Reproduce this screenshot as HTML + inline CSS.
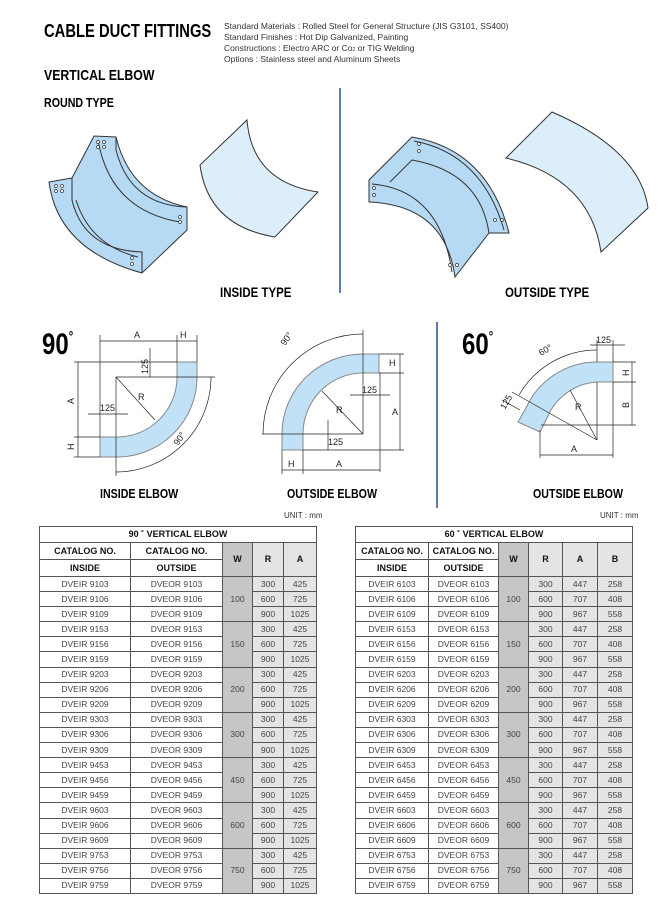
<!DOCTYPE html>
<html><head><meta charset="utf-8"><style>
*{margin:0;padding:0;box-sizing:border-box}
body{width:670px;height:909px;background:#fff;position:relative;overflow:hidden;font-family:"Liberation Sans",sans-serif}
.t{position:absolute;white-space:nowrap}
.s{position:absolute;white-space:nowrap;left:224px;font-size:8.5px;line-height:10px;color:#333}
.b{font-weight:bold;transform-origin:left top}
table{position:absolute;border-collapse:collapse;table-layout:fixed;font-size:8.5px;color:#444}
td{border:1px solid #555;text-align:center;height:15.1px;padding:0;line-height:13px}
.h td{font-weight:bold;color:#111;font-size:9px;height:17px}
td.w{background:#c6c6c6}
td.g{background:#e4e4e4}
.ttl td{font-weight:bold;color:#111;font-size:9px;height:16px}
</style></head><body>
<div class="t b" style="left:44px;top:21px;font-size:18px;transform:scaleX(0.82)">CABLE DUCT FITTINGS</div>
<div class="s" style="top:21px">Standard Materials : Rolled Steel for General Structure (JIS G3101, SS400)</div>
<div class="s" style="top:32px">Standard Finishes : Hot Dip Galvanized, Painting</div>
<div class="s" style="top:43px">Constructions : Electro ARC or Co<span style="font-size:5px">2</span> or TIG Welding</div>
<div class="s" style="top:54px">Options : Stainless steel and Aluminum Sheets</div>
<div class="t b" style="left:44px;top:67px;font-size:15px;transform:scaleX(0.82)">VERTICAL ELBOW</div>
<div class="t b" style="left:44px;top:95px;font-size:13px;transform:scaleX(0.82)">ROUND TYPE</div>
<div class="t b" style="left:220px;top:284px;font-size:14px;transform:scaleX(0.82)">INSIDE TYPE</div>
<div class="t b" style="left:505px;top:284px;font-size:14px;transform:scaleX(0.82)">OUTSIDE TYPE</div>
<div class="t b" style="left:42px;top:328px;font-size:30px;transform:scaleX(0.8)">90<span style="font-size:14px;vertical-align:top">°</span></div>
<div class="t b" style="left:462px;top:328px;font-size:30px;transform:scaleX(0.8)">60<span style="font-size:14px;vertical-align:top">°</span></div>
<div class="t b" style="left:100px;top:486px;font-size:13px;transform:scaleX(0.82)">INSIDE ELBOW</div>
<div class="t b" style="left:287px;top:486px;font-size:13px;transform:scaleX(0.82)">OUTSIDE ELBOW</div>
<div class="t b" style="left:533px;top:486px;font-size:13px;transform:scaleX(0.82)">OUTSIDE ELBOW</div>
<div class="t" style="left:284px;top:511px;font-size:8px;color:#333">UNIT : mm</div>
<div class="t" style="left:600px;top:511px;font-size:8px;color:#333">UNIT : mm</div>

<svg width="670" height="909" style="position:absolute;left:0;top:0" font-family="Liberation Sans, sans-serif">
<g stroke="#2a4f8a" stroke-width="1.5"><line x1="340" y1="88" x2="340" y2="293"/><line x1="437" y1="322" x2="437" y2="508"/></g>
<g stroke="#333" stroke-width="1" fill="#b6daf3">
<path d="M49,182 L72,178 L94,136 L116,137 Q130,195 187,207 L187,230 L142,273 Q58,250 49,182 Z"/>
<path d="M72,178 L72,200 Q84,250 142,252 L142,273" fill="none"/>
<path d="M116,137 L116,150 Q130,205 187,207" fill="none"/>
<path d="M98,140 Q110,210 180,222" fill="none"/><path d="M76,200 Q90,245 138,257" fill="none"/>
<path d="M247,120 Q252,182 318,192 L275,237 Q208,226 200,165 Z" fill="#dbeefa"/>
<path d="M369,180 L412,137 Q488,150 509,233 L489,233 L455,277 Q445,205 369,202 Z"/>
<path d="M390,182 L412,160 Q480,172 489,233" fill="none"/>
<path d="M414,141 Q482,154 504,230" fill="none"/><path d="M372,184 Q440,190 452,272" fill="none"/>
<path d="M552,112 Q640,150 648,208 L601,252 Q590,178 506,158 Z" fill="#dbeefa"/>
</g>
<g fill="#fff" stroke="#333" stroke-width="0.7">
<circle cx="98" cy="142" r="1.5"/><circle cx="104" cy="142" r="1.5"/><circle cx="98" cy="147" r="1.5"/><circle cx="104" cy="147" r="1.5"/>
<circle cx="56" cy="186" r="1.5"/><circle cx="62" cy="186" r="1.5"/><circle cx="56" cy="191" r="1.5"/><circle cx="62" cy="191" r="1.5"/>
<circle cx="180" cy="217" r="1.5"/><circle cx="180" cy="222" r="1.5"/><circle cx="132" cy="258" r="1.5"/><circle cx="132" cy="264" r="1.5"/>
<circle cx="419" cy="144" r="1.5"/><circle cx="419" cy="151" r="1.5"/><circle cx="374" cy="188" r="1.5"/><circle cx="374" cy="195" r="1.5"/>
<circle cx="495" cy="220" r="1.5"/><circle cx="502" cy="220" r="1.5"/><circle cx="450" cy="265" r="1.5"/><circle cx="457" cy="265" r="1.5"/>
</g>
<g stroke="#888" stroke-width="1" fill="#c0e1f6">
<path d="M177,362 L197,362 L197,377 A80,80 0 0 1 117,457 L100,457 L100,437 L117,437 A60,60 0 0 0 177,377 Z"/>
<path d="M379,354 L363,354 A81,80 0 0 0 282,434 L282,450 L303,450 L303,434 A60,61 0 0 1 363,373 L379,373 Z"/>
<path d="M613,362 L597,362 A78,78 0 0 0 526,408 L518,422 L540,432 L547,418 A58,58 0 0 1 597,382 L613,382 Z"/>
</g>
<g stroke="#222" stroke-width="0.7" fill="none">
<line x1="100" y1="341" x2="197" y2="341"/><line x1="100" y1="335" x2="100" y2="437"/><line x1="177" y1="335" x2="177" y2="362"/><line x1="197" y1="335" x2="197" y2="362"/>
<line x1="78" y1="362" x2="78" y2="457"/><line x1="74" y1="362" x2="177" y2="362"/><line x1="74" y1="437" x2="100" y2="437"/><line x1="74" y1="457" x2="100" y2="457"/>
<line x1="116" y1="377" x2="215" y2="377"/><line x1="116" y1="377" x2="116" y2="476"/><line x1="116" y1="377" x2="155" y2="420"/>
<line x1="150" y1="348" x2="150" y2="377"/><line x1="88" y1="414" x2="128" y2="414"/>
<path d="M211,377 A95,95 0 0 1 116,472"/>
<line x1="262" y1="434" x2="363" y2="434"/><line x1="363" y1="330" x2="363" y2="434"/><line x1="363" y1="434" x2="322" y2="391"/>
<line x1="379" y1="354" x2="404" y2="354"/><line x1="379" y1="373" x2="404" y2="373"/><line x1="303" y1="450" x2="404" y2="450"/><line x1="400" y1="354" x2="400" y2="450"/><line x1="380" y1="373" x2="380" y2="472"/>
<line x1="282" y1="450" x2="282" y2="474"/><line x1="303" y1="450" x2="303" y2="474"/><line x1="282" y1="470" x2="380" y2="470"/>
<line x1="350" y1="395" x2="390" y2="395"/><line x1="328" y1="420" x2="328" y2="450"/>
<path d="M363,334 A100,100 0 0 0 263,434"/>
<line x1="597" y1="340" x2="597" y2="362"/><line x1="613" y1="340" x2="613" y2="362"/><line x1="590" y1="345" x2="625" y2="345"/>
<line x1="613" y1="362" x2="636" y2="362"/><line x1="613" y1="382" x2="636" y2="382"/><line x1="541" y1="425" x2="636" y2="425"/><line x1="632" y1="362" x2="632" y2="425"/>
<line x1="597" y1="382" x2="597" y2="440"/><line x1="597" y1="440" x2="570" y2="390"/><line x1="597" y1="440" x2="512" y2="392"/>
<line x1="540" y1="430" x2="540" y2="458"/><line x1="613" y1="382" x2="613" y2="458"/><line x1="540" y1="455" x2="613" y2="455"/>
<path d="M597,350 A90,90 0 0 0 519,395"/><line x1="502" y1="400" x2="520" y2="410"/>
</g>
<g font-size="9" fill="#222">
<text x="134" y="338">A</text><text x="180" y="338">H</text>
<text x="74" y="404" transform="rotate(-90 74 404)">A</text><text x="74" y="450" transform="rotate(-90 74 450)">H</text>
<text x="148" y="374" transform="rotate(-90 148 374)">125</text><text x="100" y="411">125</text><text x="138" y="400">R</text>
<text x="178" y="446" transform="rotate(-55 178 446)">90°</text>
<text x="285" y="346" transform="rotate(-55 285 346)">90°</text>
<text x="389" y="366">H</text><text x="392" y="415">A</text><text x="362" y="393">125</text><text x="328" y="445">125</text><text x="336" y="413">R</text>
<text x="288" y="467">H</text><text x="336" y="467">A</text>
<text x="596" y="343">125</text><text x="541" y="356" transform="rotate(-30 541 356)">60°</text>
<text x="629" y="376" transform="rotate(-90 629 376)">H</text><text x="629" y="408" transform="rotate(-90 629 408)">B</text>
<text x="575" y="410">R</text><text x="571" y="452">A</text><text x="505" y="410" transform="rotate(-60 505 410)">125</text>
</g>
</svg>

<table style="left:39px;top:526px;width:277px">
<colgroup><col style="width:91px"><col style="width:92px"><col style="width:30px"><col style="width:31px"><col style="width:33px"></colgroup>
<tr class="ttl"><td colspan="5">90 ˚ VERTICAL ELBOW</td></tr>
<tr class="h"><td>CATALOG NO.</td><td>CATALOG NO.</td><td rowspan="2" class="w">W</td><td rowspan="2" class="g">R</td><td rowspan="2" class="g">A</td></tr>
<tr class="h"><td>INSIDE</td><td>OUTSIDE</td></tr>
<tr><td>DVEIR 9103</td><td>DVEOR 9103</td><td rowspan="3" class="w">100</td><td class="g">300</td><td class="g">425</td></tr>
<tr><td>DVEIR 9106</td><td>DVEOR 9106</td><td class="g">600</td><td class="g">725</td></tr>
<tr><td>DVEIR 9109</td><td>DVEOR 9109</td><td class="g">900</td><td class="g">1025</td></tr>
<tr><td>DVEIR 9153</td><td>DVEOR 9153</td><td rowspan="3" class="w">150</td><td class="g">300</td><td class="g">425</td></tr>
<tr><td>DVEIR 9156</td><td>DVEOR 9156</td><td class="g">600</td><td class="g">725</td></tr>
<tr><td>DVEIR 9159</td><td>DVEOR 9159</td><td class="g">900</td><td class="g">1025</td></tr>
<tr><td>DVEIR 9203</td><td>DVEOR 9203</td><td rowspan="3" class="w">200</td><td class="g">300</td><td class="g">425</td></tr>
<tr><td>DVEIR 9206</td><td>DVEOR 9206</td><td class="g">600</td><td class="g">725</td></tr>
<tr><td>DVEIR 9209</td><td>DVEOR 9209</td><td class="g">900</td><td class="g">1025</td></tr>
<tr><td>DVEIR 9303</td><td>DVEOR 9303</td><td rowspan="3" class="w">300</td><td class="g">300</td><td class="g">425</td></tr>
<tr><td>DVEIR 9306</td><td>DVEOR 9306</td><td class="g">600</td><td class="g">725</td></tr>
<tr><td>DVEIR 9309</td><td>DVEOR 9309</td><td class="g">900</td><td class="g">1025</td></tr>
<tr><td>DVEIR 9453</td><td>DVEOR 9453</td><td rowspan="3" class="w">450</td><td class="g">300</td><td class="g">425</td></tr>
<tr><td>DVEIR 9456</td><td>DVEOR 9456</td><td class="g">600</td><td class="g">725</td></tr>
<tr><td>DVEIR 9459</td><td>DVEOR 9459</td><td class="g">900</td><td class="g">1025</td></tr>
<tr><td>DVEIR 9603</td><td>DVEOR 9603</td><td rowspan="3" class="w">600</td><td class="g">300</td><td class="g">425</td></tr>
<tr><td>DVEIR 9606</td><td>DVEOR 9606</td><td class="g">600</td><td class="g">725</td></tr>
<tr><td>DVEIR 9609</td><td>DVEOR 9609</td><td class="g">900</td><td class="g">1025</td></tr>
<tr><td>DVEIR 9753</td><td>DVEOR 9753</td><td rowspan="3" class="w">750</td><td class="g">300</td><td class="g">425</td></tr>
<tr><td>DVEIR 9756</td><td>DVEOR 9756</td><td class="g">600</td><td class="g">725</td></tr>
<tr><td>DVEIR 9759</td><td>DVEOR 9759</td><td class="g">900</td><td class="g">1025</td></tr>
</table>

<table style="left:355px;top:526px;width:277px">
<colgroup><col style="width:73px"><col style="width:70px"><col style="width:30px"><col style="width:34px"><col style="width:35px"><col style="width:35px"></colgroup>
<tr class="ttl"><td colspan="6">60 ˚ VERTICAL ELBOW</td></tr>
<tr class="h"><td>CATALOG NO.</td><td>CATALOG NO.</td><td rowspan="2" class="w">W</td><td rowspan="2" class="g">R</td><td rowspan="2" class="g">A</td><td rowspan="2" class="g">B</td></tr>
<tr class="h"><td>INSIDE</td><td>OUTSIDE</td></tr>
<tr><td>DVEIR 6103</td><td>DVEOR 6103</td><td rowspan="3" class="w">100</td><td class="g">300</td><td class="g">447</td><td class="g">258</td></tr>
<tr><td>DVEIR 6106</td><td>DVEOR 6106</td><td class="g">600</td><td class="g">707</td><td class="g">408</td></tr>
<tr><td>DVEIR 6109</td><td>DVEOR 6109</td><td class="g">900</td><td class="g">967</td><td class="g">558</td></tr>
<tr><td>DVEIR 6153</td><td>DVEOR 6153</td><td rowspan="3" class="w">150</td><td class="g">300</td><td class="g">447</td><td class="g">258</td></tr>
<tr><td>DVEIR 6156</td><td>DVEOR 6156</td><td class="g">600</td><td class="g">707</td><td class="g">408</td></tr>
<tr><td>DVEIR 6159</td><td>DVEOR 6159</td><td class="g">900</td><td class="g">967</td><td class="g">558</td></tr>
<tr><td>DVEIR 6203</td><td>DVEOR 6203</td><td rowspan="3" class="w">200</td><td class="g">300</td><td class="g">447</td><td class="g">258</td></tr>
<tr><td>DVEIR 6206</td><td>DVEOR 6206</td><td class="g">600</td><td class="g">707</td><td class="g">408</td></tr>
<tr><td>DVEIR 6209</td><td>DVEOR 6209</td><td class="g">900</td><td class="g">967</td><td class="g">558</td></tr>
<tr><td>DVEIR 6303</td><td>DVEOR 6303</td><td rowspan="3" class="w">300</td><td class="g">300</td><td class="g">447</td><td class="g">258</td></tr>
<tr><td>DVEIR 6306</td><td>DVEOR 6306</td><td class="g">600</td><td class="g">707</td><td class="g">408</td></tr>
<tr><td>DVEIR 6309</td><td>DVEOR 6309</td><td class="g">900</td><td class="g">967</td><td class="g">558</td></tr>
<tr><td>DVEIR 6453</td><td>DVEOR 6453</td><td rowspan="3" class="w">450</td><td class="g">300</td><td class="g">447</td><td class="g">258</td></tr>
<tr><td>DVEIR 6456</td><td>DVEOR 6456</td><td class="g">600</td><td class="g">707</td><td class="g">408</td></tr>
<tr><td>DVEIR 6459</td><td>DVEOR 6459</td><td class="g">900</td><td class="g">967</td><td class="g">558</td></tr>
<tr><td>DVEIR 6603</td><td>DVEOR 6603</td><td rowspan="3" class="w">600</td><td class="g">300</td><td class="g">447</td><td class="g">258</td></tr>
<tr><td>DVEIR 6606</td><td>DVEOR 6606</td><td class="g">600</td><td class="g">707</td><td class="g">408</td></tr>
<tr><td>DVEIR 6609</td><td>DVEOR 6609</td><td class="g">900</td><td class="g">967</td><td class="g">558</td></tr>
<tr><td>DVEIR 6753</td><td>DVEOR 6753</td><td rowspan="3" class="w">750</td><td class="g">300</td><td class="g">447</td><td class="g">258</td></tr>
<tr><td>DVEIR 6756</td><td>DVEOR 6756</td><td class="g">600</td><td class="g">707</td><td class="g">408</td></tr>
<tr><td>DVEIR 6759</td><td>DVEOR 6759</td><td class="g">900</td><td class="g">967</td><td class="g">558</td></tr>
</table>
</body></html>
